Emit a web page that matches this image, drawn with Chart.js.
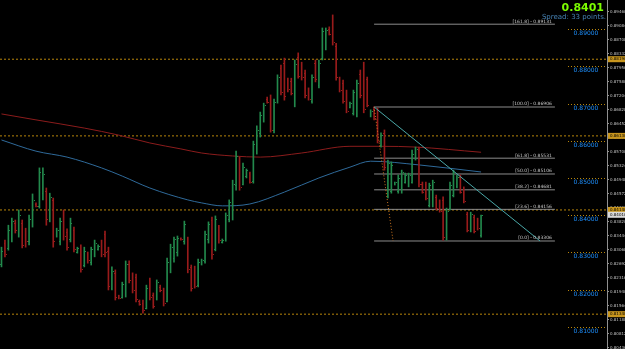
<!DOCTYPE html>
<html>
<head>
<meta charset="utf-8">
<style>
html, body { margin: 0; padding: 0; background: #000; overflow: hidden; }
canvas { display: block; }
</style>
<script src="https://cdn.jsdelivr.net/npm/chart.js@4.4.1/dist/chart.umd.min.js"></script>
</head>
<body>
<canvas id="chart" width="625" height="349"></canvas>
<script>
// bars, one per period (index 0 = oldest)
const opens = [
  .8270,.8325,.8312,.8340,.8380,.8350,.8380,.8355,.8330,.8380,
  .8430,.8425,.8460,.8465,.8395,.8440,.8345,.8330,.8405,.8355,
  .8335,.8360,.8300,.8310,.8265,.8298,.8275,.8295,.8308,.8325,
  .8350,.8305,.8205,.8245,.8183,.8180,.8200,.8270,.8235,.8235,
  .8170,.8165,.8150,.8225,.8185,.8178,.8208,.8200,.8170,.8255,
  .8285,.8300,.8338,.8330,.8335,.8260,.8258,.8212,.8268,.8278,
  .8335,.8388,.8310,.8368,.8327,.8335,.8390,.8395,.8480,.8550,
  .8485,.8505,.8512,.8492,.8575,.8620,.8660,.8712,.8710,.8630,
  .8705,.8795,.8810,.8762,.8760,.8700,.8825,.8805,.8782,.8738,
  .8708,.8810,.8750,.8822,.8850,.8900,.8925,.8855,.8765,.8755,
  .8730,.8690,.8675,.8670,.8780,.8800,.8765,.8666,.8685,.8680,
  .8588,.8620,.8455,.8465,.8483,.8465,.8465,.8490,.8480,.8490,
  .8552,.8575,.8485,.8485,.8428,.8428,.8450,.8438,.8440,.8338,
  .8418,.8455,.8478,.8502,.8470,.8402,.8360,.8396,.8388,.8348
];
const highs = [
  .8314,.8333,.8373,.8392,.8387,.8414,.8387,.8365,.8400,.8457,
  .8433,.8527,.8527,.8473,.8459,.8446,.8365,.8392,.8414,.8363,
  .8392,.8368,.8314,.8320,.8314,.8301,.8314,.8333,.8320,.8333,
  .8357,.8314,.8261,.8253,.8185,.8220,.8277,.8277,.8245,.8242,
  .8172,.8172,.8212,.8231,.8191,.8226,.8212,.8204,.8285,.8322,
  .8341,.8344,.8339,.8384,.8341,.8266,.8263,.8282,.8282,.8357,
  .8382,.8395,.8398,.8373,.8336,.8406,.8441,.8494,.8572,.8556,
  .8540,.8524,.8516,.8599,.8640,.8677,.8701,.8717,.8723,.8712,
  .8777,.8803,.8822,.8768,.8768,.8817,.8836,.8811,.8790,.8742,
  .8777,.8817,.8817,.8903,.8903,.8906,.8938,.8862,.8771,.8763,
  .8736,.8704,.8736,.8763,.8790,.8811,.8771,.8683,.8691,.8688,
  .8621,.8629,.8548,.8543,.8489,.8508,.8521,.8513,.8513,.8575,
  .8583,.8583,.8489,.8489,.8486,.8494,.8454,.8441,.8449,.8419,
  .8489,.8521,.8508,.8508,.8476,.8408,.8408,.8400,.8392,.8400
];
const lows = [
  .8261,.8288,.8306,.8328,.8352,.8341,.8312,.8314,.8320,.8368,
  .8422,.8419,.8441,.8373,.8382,.8314,.8341,.8320,.8333,.8306,
  .8328,.8301,.8298,.8247,.8261,.8271,.8266,.8288,.8306,.8288,
  .8288,.8199,.8199,.8172,.8175,.8177,.8180,.8218,.8191,.8167,
  .8158,.8137,.8148,.8172,.8150,.8172,.8194,.8156,.8167,.8245,
  .8274,.8290,.8333,.8322,.8245,.8196,.8204,.8207,.8266,.8271,
  .8325,.8282,.8304,.8325,.8325,.8330,.8382,.8387,.8467,.8467,
  .8481,.8500,.8486,.8486,.8564,.8610,.8650,.8701,.8623,.8621,
  .8701,.8723,.8709,.8731,.8723,.8691,.8768,.8763,.8715,.8709,
  .8701,.8758,.8742,.8817,.8844,.8884,.8857,.8763,.8731,.8701,
  .8675,.8688,.8669,.8664,.8715,.8675,.8691,.8664,.8656,.8594,
  .8583,.8521,.8446,.8459,.8481,.8459,.8459,.8486,.8476,.8486,
  .8548,.8476,.8459,.8441,.8422,.8422,.8414,.8408,.8333,.8333,
  .8414,.8449,.8473,.8459,.8433,.8355,.8355,.8352,.8360,.8341
];
const closes = [
  .8305,.8295,.8360,.8385,.8360,.8400,.8320,.8330,.8390,.8440,
  .8425,.8515,.8510,.8390,.8450,.8330,.8360,.8385,.8345,.8315,
  .8380,.8310,.8312,.8255,.8305,.8280,.8308,.8325,.8318,.8295,
  .8300,.8210,.8250,.8180,.8177,.8215,.8270,.8225,.8200,.8175,
  .8160,.8145,.8205,.8180,.8155,.8220,.8198,.8165,.8275,.8315,
  .8335,.8338,.8335,.8375,.8255,.8205,.8210,.8275,.8280,.8350,
  .8375,.8295,.8390,.8332,.8334,.8400,.8435,.8485,.8560,.8475,
  .8530,.8520,.8490,.8590,.8630,.8670,.8695,.8704,.8630,.8705,
  .8770,.8730,.8720,.8738,.8728,.8805,.8775,.8770,.8722,.8712,
  .8770,.8765,.8810,.8895,.8898,.8888,.8865,.8770,.8736,.8706,
  .8680,.8702,.8730,.8755,.8722,.8685,.8695,.8680,.8660,.8600,
  .8615,.8530,.8540,.8535,.8488,.8500,.8515,.8508,.8508,.8565,
  .8578,.8485,.8462,.8445,.8480,.8488,.8418,.8412,.8340,.8412,
  .8482,.8515,.8503,.8462,.8438,.8360,.8402,.8357,.8365,.8401
];

// moving averages, read at a few bar positions
const slowMaAt = [0, 10, 24, 34, 43, 52, 58, 67, 75, 87, 101, 110, 120, 139];
const slowMa   = [.8672,.8656,.8634,.8615,.8594,.8578,.8567,.8559,.8556,.8567,.8585,.8585,.8583,.8569];
const fastMaAt = [0, 10, 19, 29, 35, 43, 54, 58, 64, 72, 82, 92, 101, 107, 121, 139];
const fastMa   = [.8602,.8572,.8556,.8527,.8505,.8473,.8441,.8433,.8425,.8430,.8462,.8500,.8529,.8545,.8535,.8516];

// fibonacci retracement
const fibNames  = ['161.8', '100.0', '61.8', '50.0', '38.2', '23.6', '0.0'];
const fibPrices = [0.89131, 0.86906, 0.85531, 0.85106, 0.84681, 0.84156, 0.83306];
const fibFrom = 108, fibTo = 160.4, fibLowAt = 113.5;
const trendStart = [108, 0.86906], trendEnd = [156.1, 0.83306];

// horizontal levels
const orangeLevels = [0.88190, 0.86130, 0.84140, 0.81340];
const roundLevels  = [0.89, 0.88, 0.87, 0.86, 0.85, 0.84, 0.83, 0.82, 0.81];
const axisTicks = [0.89460,0.89084,0.88708,0.88332,0.87956,0.87580,0.87204,0.86828,0.86452,0.86076,
  0.85700,0.85324,0.84948,0.84572,0.84196,0.83820,0.83444,0.83068,0.82692,0.82316,
  0.81940,0.81564,0.81188,0.80812,0.80436];
const lastPrice = 0.8401;
const spread = 33;

const UP = '#22894c', DOWN = '#981b1b';
const seg = (a, b) => [{x: a[0], y: a[1]}, {x: b[0], y: b[1]}];
const hline = (v, c, dash, from, to) => ({
  type: 'line', data: seg([from, v], [to, v]), borderColor: c, borderWidth: 1,
  borderDash: dash, pointRadius: 0, order: 5
});

// open/close side ticks + all the text bits
const overlay = {
  id: 'overlay',
  afterDatasetsDraw(chart) {
    const {ctx, scales: {x, y}} = chart;
    ctx.save();
    opens.forEach((o, i) => {
      const px = Math.round(x.getPixelForValue(i));
      ctx.fillStyle = closes[i] >= o ? UP : DOWN;
      ctx.fillRect(px - 1, Math.round(y.getPixelForValue(o)), 1, 1);
      ctx.fillRect(px + 1, Math.round(y.getPixelForValue(closes[i])), 1, 1);
    });
    ctx.restore();
  },
  afterDraw(chart) {
    const {ctx, chartArea, scales: {x, y}} = chart;
    ctx.save();
    // fib labels
    ctx.font = '4.5px "DejaVu Sans"';
    ctx.fillStyle = '#c8c8c8';
    ctx.textAlign = 'right';
    ctx.textBaseline = 'bottom';
    fibNames.forEach((n, i) => {
      ctx.fillText('[' + n + '] - ' + fibPrices[i].toFixed(5), x.getPixelForValue(fibTo) - 3, y.getPixelForValue(fibPrices[i]) - 0.5);
    });
    // round price marks
    ctx.textAlign = 'center';
    ctx.textBaseline = 'top';
    ctx.font = '6px "DejaVu Sans"';
    roundLevels.forEach(v => {
      const py = Math.round(y.getPixelForValue(v)) + 0.5;
      ctx.strokeStyle = '#b8860b';
      ctx.setLineDash([1, 2]);
      ctx.beginPath();
      ctx.moveTo(568, py);
      ctx.lineTo(chartArea.right, py);
      ctx.stroke();
      ctx.fillStyle = '#1e90ff';
      ctx.fillText(v.toFixed(5), 586, py + 1);
    });
    ctx.setLineDash([]);
    // axis badges
    ctx.textAlign = 'left';
    ctx.textBaseline = 'middle';
    ctx.font = '4px "DejaVu Sans"';
    orangeLevels.forEach(v => {
      const py = y.getPixelForValue(v);
      ctx.fillStyle = '#c8961e';
      ctx.fillRect(chartArea.right + 1, py - 3, 18, 6);
      ctx.fillStyle = '#000';
      ctx.fillText(v.toFixed(5), chartArea.right + 3, py);
    });
    const lp = y.getPixelForValue(lastPrice);
    ctx.fillStyle = '#d8d8d8';
    ctx.fillRect(chartArea.right + 1, lp - 3, 18, 6);
    ctx.fillStyle = '#000';
    ctx.fillText(lastPrice.toFixed(5), chartArea.right + 3, lp);
    // top right quote
    ctx.textAlign = 'right';
    ctx.textBaseline = 'alphabetic';
    ctx.font = 'bold 11px "DejaVu Sans"';
    ctx.fillStyle = '#7cfc00';
    ctx.fillText(lastPrice.toFixed(4), 604, 11);
    ctx.font = '7px "DejaVu Sans"';
    ctx.fillStyle = '#4682b4';
    ctx.fillText('Spread: ' + spread + ' points.', 606, 19);
    ctx.restore();
  }
};

const datasets = [
  {
    type: 'bar',
    data: highs.map((h, i) => ({x: i, y: [lows[i], h]})),
    backgroundColor: closes.map((c, i) => c >= opens[i] ? UP : DOWN),
    barThickness: 1,
    borderWidth: 0,
    order: 2
  },
  {
    type: 'line',
    data: slowMaAt.map((v, i) => ({x: v, y: slowMa[i]})),
    borderColor: '#8b1c1c', borderWidth: 1, pointRadius: 0,
    cubicInterpolationMode: 'monotone', order: 3
  },
  {
    type: 'line',
    data: fastMaAt.map((v, i) => ({x: v, y: fastMa[i]})),
    borderColor: '#2f6a9a', borderWidth: 1, pointRadius: 0,
    cubicInterpolationMode: 'monotone', order: 3
  },
  {
    type: 'line', data: seg(trendStart, trendEnd),
    borderColor: '#4aa8a8', borderWidth: 1, pointRadius: 0, order: 1
  },
  {
    type: 'line', data: seg([fibFrom, fibPrices[1]], [fibLowAt, fibPrices[6]]),
    borderColor: '#d07820', borderWidth: 1, borderDash: [1, 2], pointRadius: 0, order: 1
  }
];
fibPrices.forEach(v => datasets.push(hline(v, '#8c8c8c', [], fibFrom, fibTo)));
orangeLevels.forEach(v => datasets.push(hline(v, '#b8860b', [2, 2], -0.43, 175.5)));

new Chart(document.getElementById('chart'), {
  type: 'bar',
  data: {datasets},
  options: {
    responsive: false,
    animation: false,
    devicePixelRatio: 1,
    layout: {padding: 0},
    plugins: {legend: {display: false}, tooltip: {enabled: false}},
    scales: {
      x: {type: 'linear', display: false, min: -0.43, max: 175.5, offset: false},
      y: {
        position: 'right',
        min: 0.80404,
        max: 0.89781,
        grid: {display: true, drawOnChartArea: false, tickLength: 2, color: '#909090'},
        border: {display: true, color: '#909090'},
        ticks: {
          autoSkip: false,
          padding: 1,
          color: '#c0c0c0',
          font: {size: 4, family: 'DejaVu Sans'},
          callback: v => v.toFixed(5)
        },
        afterBuildTicks: s => { s.ticks = axisTicks.map(v => ({value: v})); },
        afterFit: s => { s.width = 18; s.paddingTop = 0; s.paddingBottom = 0; }
      }
    }
  },
  plugins: [overlay]
});
</script>
</body>
</html>
